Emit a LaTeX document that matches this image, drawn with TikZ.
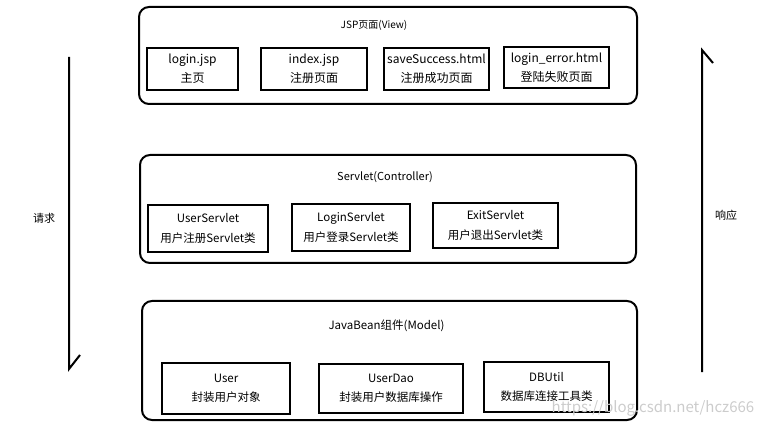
\documentclass[tikz,border=0pt]{standalone}
\usepackage{fontspec}
\setmainfont{Noto Sans CJK SC}
\begin{document}
\begin{tikzpicture}[x=1pt,y=-1pt,
  outer/.style={draw,line width=2pt,rounded corners=10pt},
  inbox/.style={draw,line width=2.4pt,inner sep=0pt,align=center,font=\fontsize{11.5}{19.5}\selectfont},
  ttl/.style={inner sep=0pt,font=\fontsize{11}{13}\selectfont},
  arr/.style={line width=2pt,line join=miter}]
\useasboundingbox (0,0) rectangle (763,430);
% outer boxes
\draw[outer] (139,7) rectangle (637,104);
\draw[outer] (140,155) rectangle (636,263);
\draw[outer] (142,301) rectangle (637,420);
\node[ttl,font=\fontsize{10}{12}\selectfont] (t1) at (374,25) {JSP页面(View)};
\node[ttl] (t2) at (385,177) {Servlet(Controller)};
\node[ttl,font=\fontsize{11.5}{13}\selectfont] (t3) at (386.5,326) {JavaBean组件(Model)};
% row 1
\node[inbox,minimum width=91pt,minimum height=42pt,font=\fontsize{12}{19}\selectfont] (login) at (192.5,69) {login.jsp\\主页};
\node[inbox,minimum width=106pt,minimum height=42pt,font=\fontsize{12}{19}\selectfont] (index) at (314,69) {index.jsp\\注册页面};
\node[inbox,minimum width=105pt,minimum height=42pt,font=\fontsize{12}{19}\selectfont] (save) at (436.5,69) {saveSuccess.html\\注册成功页面};
\node[inbox,minimum width=105pt,minimum height=41pt,font=\fontsize{12}{19}\selectfont] (lerr) at (556.5,67.5) {login\_error.html\\登陆失败页面};
% row 2
\node[inbox,minimum width=120pt,minimum height=47pt] (us) at (208,228.5) {UserServlet\\用户注册Servlet类};
\node[inbox,minimum width=118pt,minimum height=47pt] (ls) at (351,227.5) {LoginServlet\\用户登录Servlet类};
\node[inbox,minimum width=125pt,minimum height=45pt] (es) at (495.5,225.5) {ExitServlet\\用户退出Servlet类};
% row 3
\node[inbox,minimum width=128pt,minimum height=51pt] (user) at (226,388.5) {User\\封装用户对象};
\node[inbox,minimum width=144pt,minimum height=49pt] (dao) at (391,388.5) {UserDao\\封装用户数据库操作};
\node[inbox,minimum width=125pt,minimum height=50pt] (db) at (546.5,387) {DBUtil\\数据库连接工具类};
% arrows
\coordinate (l1) at (69,57);
\coordinate (l2) at (69,369);
\coordinate (l3) at (80,355);
\draw[arr] (l1) -- (l2) -- (l3);
\coordinate (r1) at (702,372);
\coordinate (r2) at (702,50);
\coordinate (r3) at (713,63);
\draw[arr] (r1) -- (r2) -- (r3);
\node[ttl] (req) at (44,218) {请求};
\node[ttl] (resp) at (726,215) {响应};
% watermark
\node[inner sep=0pt,text=black!20,font=\fontsize{15}{17}\selectfont] (wm) at (653,408) {https://blog.csdn.net/hcz666};
\end{tikzpicture}
\end{document}
